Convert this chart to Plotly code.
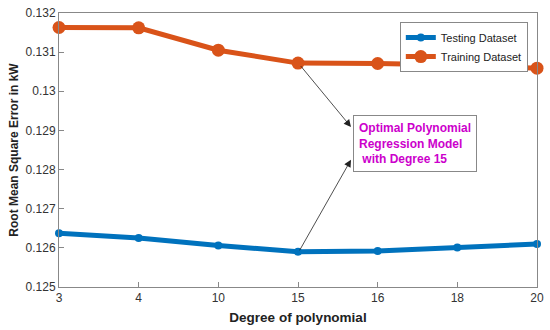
import plotly.graph_objects as go

degrees = ["3", "4", "10", "15", "16", "18", "20"]
testing = [0.12637, 0.12625, 0.12606, 0.12590, 0.12592, 0.12601, 0.12610]
training = [0.13163, 0.13162, 0.13105, 0.13072, 0.13071, 0.13067, 0.13059]
yticks = [0.125, 0.126, 0.127, 0.128, 0.129, 0.13, 0.131, 0.132]
ytick_text = ["0.125", "0.126", "0.127", "0.128", "0.129", "0.13", "0.131", "0.132"]

xi = list(range(len(degrees)))
fig = go.Figure()
fig.add_trace(go.Scatter(x=xi, y=testing, mode="lines+markers", name="Testing Dataset",
                         line=dict(color="#0072BD", width=5), marker=dict(size=8, color="#0072BD"),
                         cliponaxis=False))
fig.add_trace(go.Scatter(x=xi, y=training, mode="lines+markers", name="Training Dataset",
                         line=dict(color="#D95319", width=5), marker=dict(size=13, color="#D95319"),
                         cliponaxis=False))

opt = degrees.index("15")
fig.add_annotation(x=3.665, y=0.12909, ax=opt + 0.02, ay=training[opt] - 0.00004,
                   axref="x", ayref="y", xref="x", yref="y", text="", showarrow=True,
                   arrowhead=2, arrowsize=1.8, arrowwidth=0.8, arrowcolor="#222")
fig.add_annotation(x=3.665, y=0.12825, ax=opt + 0.01, ay=testing[opt],
                   axref="x", ayref="y", xref="x", yref="y", text="", showarrow=True,
                   arrowhead=2, arrowsize=1.8, arrowwidth=0.8, arrowcolor="#222")
fig.add_annotation(x=3.69, y=0.12867, xref="x", yref="y", xanchor="left", yanchor="middle",
                   text="Optimal Polynomial<br>Regression Model<br> with Degree 15", align="left",
                   showarrow=False, font=dict(family="Liberation Sans", size=12, color="#CC00CC", weight="bold"),
                   bordercolor="#888", borderwidth=1, borderpad=5, bgcolor="white")

axis_common = dict(showline=True, linecolor="#888", linewidth=1, mirror=True, ticks="inside",
                   ticklen=5, tickcolor="#888", showgrid=False, zeroline=False, automargin=False,
                   tickfont=dict(family="Liberation Sans", size=12, color="#333"))
fig.update_xaxes(range=[0, 6], tickvals=xi, ticktext=degrees,
                 title=dict(text="Degree of polynomial", standoff=8,
                            font=dict(family="Liberation Sans", size=13.5, color="#222", weight="bold")),
                 **axis_common)
fig.update_yaxes(range=[0.125, 0.132], tickvals=yticks, ticktext=ytick_text,
                 title=dict(text="Root Mean Square Error in kW", standoff=4,
                            font=dict(family="Liberation Sans", size=12, color="#222", weight="bold")),
                 **axis_common)
fig.update_layout(width=550, height=330, margin=dict(l=59, r=13, t=13, b=43),
                  plot_bgcolor="white", paper_bgcolor="white",
                  legend=dict(x=0.713, y=0.967, xanchor="left", yanchor="top",
                              bordercolor="#888", borderwidth=1, bgcolor="white",
                              font=dict(family="Liberation Sans", size=11, color="#222"),
                              tracegroupgap=0, itemwidth=30))
fig.write_html("out.html", config={"displayModeBar": False},
               post_script="document.body.style.margin='0';document.body.style.overflow='hidden';")
